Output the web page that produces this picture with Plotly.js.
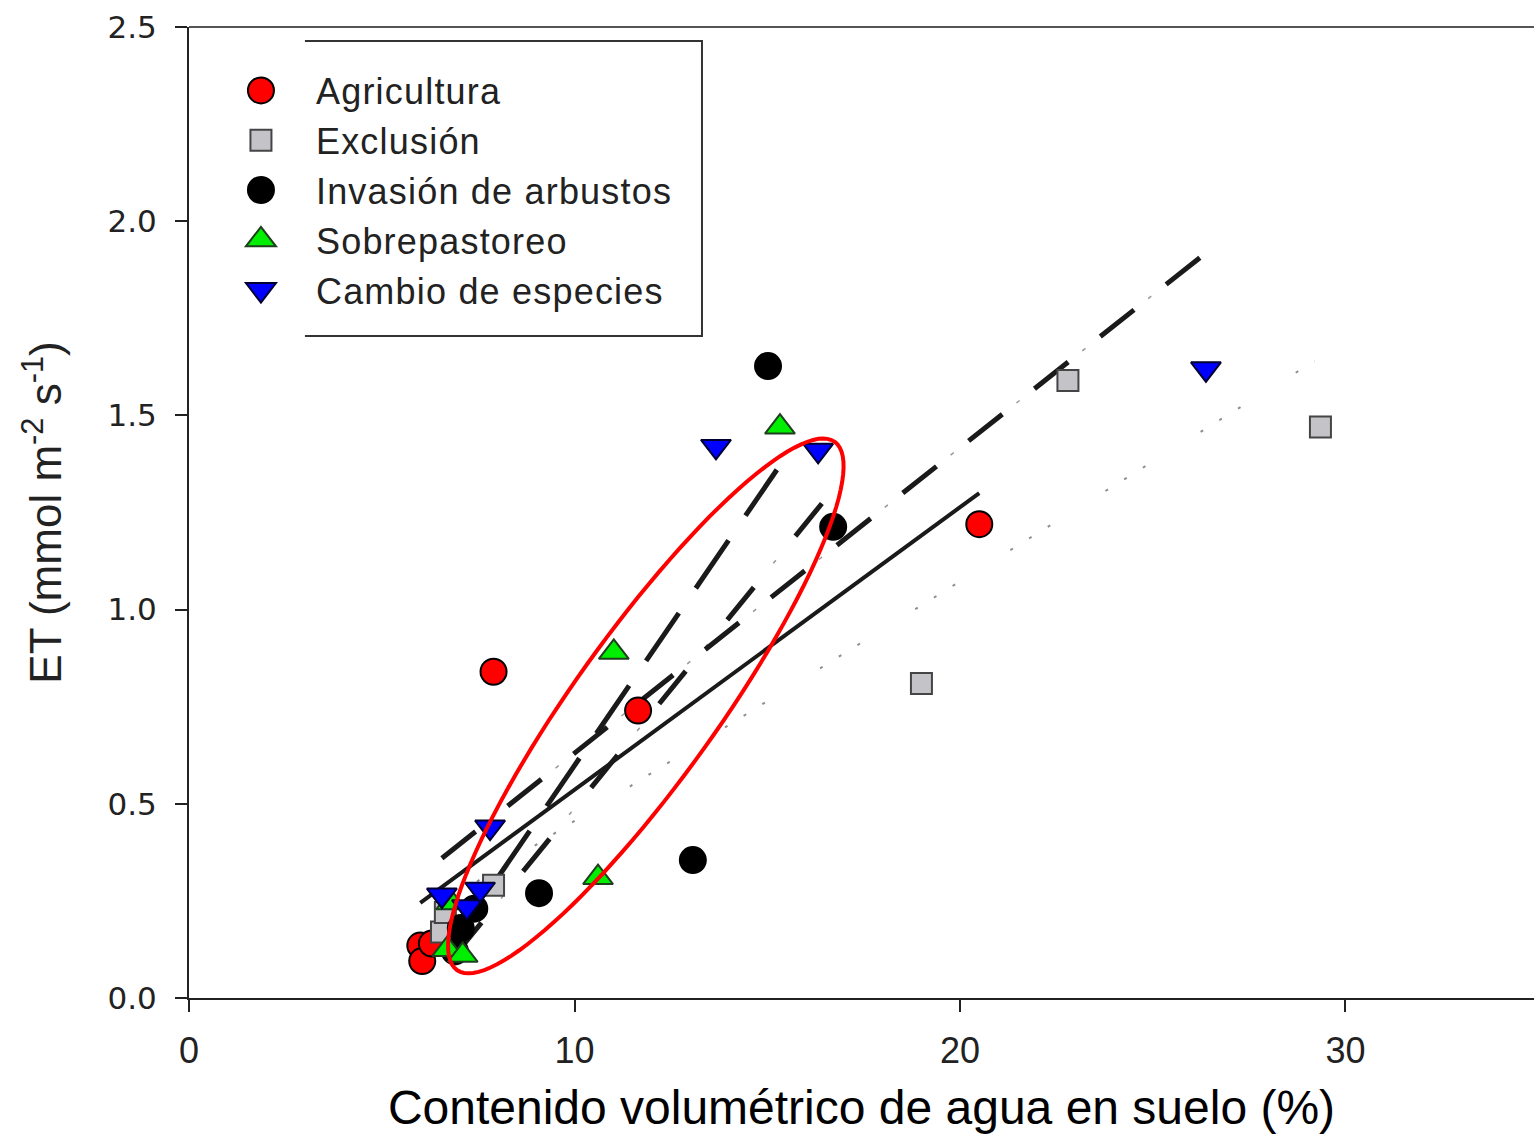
<!DOCTYPE html>
<html>
<head>
<meta charset="utf-8">
<script src="https://cdn.plot.ly/plotly-3.0.1.min.js"></script>
<style>
  html, body { margin: 0; padding: 0; background: #ffffff; }
  #chart { width: 1534px; height: 1143px; }
  #chart .legendtext { letter-spacing: 1.2px; }
</style>
</head>
<body>
<div id="chart"></div>
<script>
// Observed ET vs. soil volumetric water content, by land-use group
const agriX = [6.0, 6.05, 6.3, 7.9, 11.65, 20.5];
const agriY = [0.135, 0.095, 0.14, 0.84, 0.74, 1.22];

const exclX = [6.55, 6.65, 7.9, 19.0, 22.8, 29.35];
const exclY = [0.17, 0.22, 0.29, 0.81, 1.59, 1.47];

const invX = [6.9, 7.05, 7.4, 9.08, 13.07, 15.02, 16.71];
const invY = [0.12, 0.18, 0.23, 0.27, 0.355, 1.627, 1.213];

const sobX = [6.7, 7.1, 6.8, 10.61, 11.02, 15.33];
const sobY = [0.125, 0.11, 0.245, 0.31, 0.89, 1.47];

const cambX = [6.56, 7.21, 7.55, 7.81, 13.67, 16.32, 26.38];
const cambY = [0.265, 0.235, 0.28, 0.44, 1.42, 1.41, 1.62];

// Linear fits (end points) for each group
const fitAgriX = [6.0, 20.5],  fitAgriY = [0.245, 1.30];
const fitExclX = [6.5, 29.2],  fitExclY = [0.24, 1.64];
const fitInvX  = [6.9, 16.8],  fitInvY  = [0.11, 1.32];
const fitSobX  = [6.7, 15.25], fitSobY  = [0.12, 1.36];
const fitCambX = [6.56, 26.4], fitCambY = [0.36, 1.92];

const groupNames = ['Agricultura', 'Exclusión', 'Invasión de arbustos', 'Sobrepastoreo', 'Cambio de especies'];
const yTicks = [0, 0.5, 1.0, 1.5, 2.0, 2.5];
const xTicks = [0, 10, 20, 30];

// Highlight ellipse: centre and half-axis vectors in data units
const ellipseCenter = [11.85, 0.752];
const ellipseMajor = [4.90, 0.68];
const ellipseMinor = [1.52, -0.108];

const FONT = '"Liberation Sans", Arial, sans-serif';

function fitLine(x, y, color, width, dash) {
  return { x: x, y: y, type: 'scatter', mode: 'lines', showlegend: false, hoverinfo: 'skip',
           line: { color: color, width: width, dash: dash } };
}
function pts(x, y, name, symbol, size, fill, edge) {
  return { x: x, y: y, name: name, type: 'scatter', mode: 'markers',
           marker: { symbol: symbol, size: size, color: fill, line: { color: edge, width: 2 } } };
}

const traces = [
  fitLine(fitExclX, fitExclY, '#8e8e8e', 2, '3px,19px,3px,19px,3px,65px'),
  fitLine(fitAgriX, fitAgriY, '#1a1a1a', 4, 'solid'),
  fitLine(fitSobX, fitSobY, '#1a1a1a', 5, '58px,30px'),
  fitLine(fitInvX, fitInvY, '#1a1a1a', 5, '42px,66px'),
  fitLine(fitInvX, fitInvY, '#999999', 1.5, '0px,73px,4px,31px'),
  fitLine(fitCambX, fitCambY, '#1a1a1a', 5, '43px,41px'),
  fitLine(fitCambX, fitCambY, '#999999', 1.5, '0px,61px,4px,19px'),
  pts(agriX, agriY, groupNames[0], 'circle', 26, '#ff0000', '#000000'),
  pts(exclX, exclY, groupNames[1], 'square', 21, '#c4c4c8', '#454545'),
  pts(invX, invY, groupNames[2], 'circle', 26, '#000000', '#000000'),
  pts(sobX, sobY, groupNames[3], 'triangle-up', 26, '#00ee00', '#1f3f1f'),
  pts(cambX, cambY, groupNames[4], 'triangle-down', 26, '#0000ff', '#000033')
];

// Parametric outline of the highlight ellipse
let ep = '';
for (let i = 0; i <= 120; i++) {
  const t = 2 * Math.PI * i / 120;
  const ex = ellipseCenter[0] + Math.cos(t) * ellipseMajor[0] + Math.sin(t) * ellipseMinor[0];
  const ey = ellipseCenter[1] + Math.cos(t) * ellipseMajor[1] + Math.sin(t) * ellipseMinor[1];
  ep += (i === 0 ? 'M' : 'L') + ex.toFixed(4) + ',' + ey.toFixed(4);
}
ep += 'Z';

// Legend frame (open on the left side)
const lfL = 0.0862, lfR = 0.3814, lfT = 0.9856, lfB = 0.6818;

const layout = {
  width: 1534, height: 1143,
  margin: { l: 189, r: 0, t: 27, b: 145 },
  paper_bgcolor: '#ffffff', plot_bgcolor: '#ffffff',
  font: { family: FONT, color: '#222222' },
  showlegend: true,
  legend: {
    x: 0.0126, y: 0.9655, xanchor: 'left', yanchor: 'top',
    bgcolor: 'rgba(0,0,0,0)', borderwidth: 0,
    font: { family: FONT, size: 36, color: '#222222' },
    itemwidth: 100, tracegroupgap: 0
  },
  xaxis: {
    range: [0, 34.89], tickvals: xTicks, ticks: 'outside', ticklen: 12, tickwidth: 2, tickcolor: '#222',
    showline: true, linecolor: '#222', linewidth: 2, showgrid: false, zeroline: false,
    tickfont: { family: FONT, size: 36, color: '#222' }, ticklabelstandoff: 8,
    title: { text: 'Contenido volumétrico de agua en suelo (%)', font: { family: FONT, size: 48, color: '#000' }, standoff: 20 },
    automargin: false
  },
  yaxis: {
    range: [0, 2.5], tickvals: yTicks, tickformat: '.1f', ticks: 'outside', ticklen: 12, tickwidth: 2, tickcolor: '#222',
    showline: true, linecolor: '#222', linewidth: 2, showgrid: false, zeroline: false,
    tickfont: { family: '"DejaVu Sans", sans-serif', size: 31, color: '#222' }, ticklabelstandoff: 12,
    title: { text: 'ET (mmol m<sup>-2</sup> s<sup>-1</sup>)', font: { family: FONT, size: 44, color: '#222' }, standoff: 32 },
    automargin: false
  },
  shapes: [
    { type: 'line', xref: 'paper', yref: 'paper', x0: 0, x1: 1, y0: 1, y1: 1, line: { color: '#555', width: 2 } },
    { type: 'path', xref: 'paper', yref: 'paper',
      path: 'M' + lfL + ',' + lfT + ' L' + lfR + ',' + lfT + ' L' + lfR + ',' + lfB + ' L' + lfL + ',' + lfB,
      line: { color: '#333', width: 2 } },
    { type: 'path', xref: 'x', yref: 'y', path: ep, line: { color: '#ff0000', width: 4 }, fillcolor: 'rgba(0,0,0,0)' }
  ]
};

Plotly.newPlot('chart', traces, layout, { displayModeBar: false, staticPlot: true }).then(function (gd) {
  // Let the letter-spaced legend text extend past the computed legend box
  gd.querySelectorAll('.legend [clip-path]').forEach(function (el) { el.removeAttribute('clip-path'); });
  const lg = gd.querySelector('.legend');
  if (lg) lg.removeAttribute('clip-path');

  // Enlarge legend symbols to the size of the plotted markers
  const markerTraces = traces.filter(t => t.mode === 'markers');
  const items = gd.querySelectorAll('.legend .traces');
  items.forEach(function (item, i) {
    const k = markerTraces[i] ? markerTraces[i].marker.size / 16 : 1;
    item.querySelectorAll('.legendpoints path.scatterpts').forEach(function (p) {
      const tr = p.getAttribute('transform') || '';
      p.setAttribute('transform', tr + ' scale(' + k + ')');
      p.setAttribute('vector-effect', 'non-scaling-stroke');
      p.style.vectorEffect = 'non-scaling-stroke';
    });
  });
});
</script>
</body>
</html>
